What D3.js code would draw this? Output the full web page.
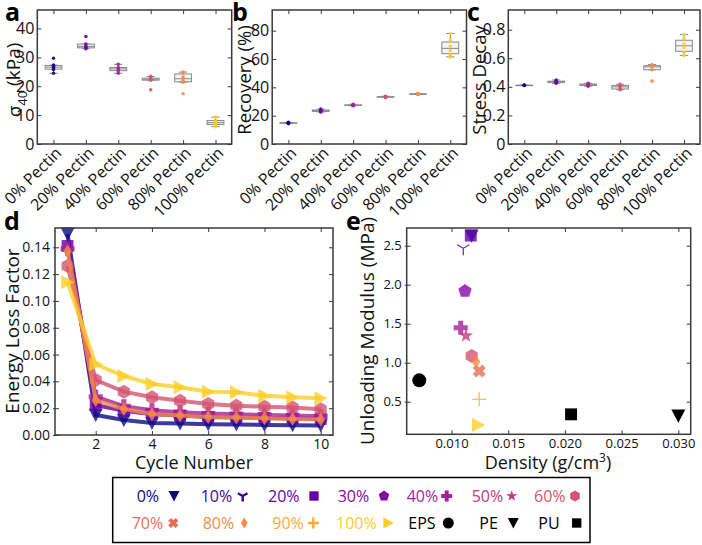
<!DOCTYPE html>
<html><head><meta charset="utf-8">
<script src="https://cdn.jsdelivr.net/npm/d3@7"></script>
<style>body{margin:0;background:#fff} svg{display:block;font-family:"Open Sans",sans-serif}</style>
</head><body><svg id="c" width="702" height="545"></svg>
<script>
// ---------------- DATA ----------------
const pectinCats = ["0% Pectin","20% Pectin","40% Pectin","60% Pectin","80% Pectin","100% Pectin"];
const pectinLevels = [0,20,40,60,80,100];
const sigma40 = [
  [29.7,27.3,26.9,26.3,25.8,24.5],
  [37.2,34.6,33.8,33.3,33.0],
  [27.6,26.5,26.0,25.4,24.5],
  [23.4,22.8,22.4,22.1,18.8],
  [24.9,24.6,23.2,22.0,21.4,17.4],
  [9.3,8.3,7.6,7.2,6.6,6.0]
];
const recovery = [
  [15.3,15.0,14.8,14.6,14.4],
  [24.6,24.0,23.5,23.0,22.6],
  [28.0,27.6,27.4,27.2,27.0],
  [33.7,33.4,33.3,33.1,32.6],
  [35.7,35.4,35.3,35.2,35.0],
  [78.0,73.0,69.0,66.0,63.0,61.5]
];
const stressDecay = [
  [0.413,0.411,0.410,0.409],
  [0.448,0.440,0.435,0.430,0.425],
  [0.425,0.420,0.415,0.410,0.405],
  [0.418,0.410,0.400,0.385,0.380],
  [0.556,0.548,0.540,0.520,0.440],
  [0.767,0.735,0.700,0.675,0.640,0.620]
];
const cycleNumbers = [1,2,3,4,5,6,7,8,9,10];
const elfLevels = [0,20,40,60,80,100];
const elf0   = [0.150,0.0149,0.0112,0.0090,0.0085,0.0080,0.0078,0.0075,0.0073,0.0070];
const elf20  = [0.141,0.0224,0.0180,0.0155,0.0145,0.0135,0.0130,0.0127,0.0124,0.0120];
const elf40  = [0.139,0.0286,0.0215,0.0185,0.0170,0.0160,0.0155,0.0150,0.0145,0.0140];
const elf60  = [0.126,0.0410,0.0323,0.0281,0.0256,0.0231,0.0219,0.0211,0.0206,0.0192];
const elf80  = [0.137,0.0260,0.0194,0.0157,0.0145,0.0135,0.0130,0.0125,0.0120,0.0115];
const elf100 = [0.114,0.0527,0.0440,0.0380,0.0356,0.0323,0.0318,0.0293,0.0281,0.0274];
const elfValues = [elf0,elf20,elf40,elf60,elf80,elf100];
const materialNames = ["0%","10%","20%","30%","40%","50%","60%","70%","80%","90%","100%","EPS","PE","PU"];
const density = [0.01178,0.01104,0.01170,0.01119,0.01081,0.01128,0.01178,0.01245,0.01216,0.01245,0.01236,0.00716,0.03000,0.02054];
const unloadingModulus = [2.628,2.467,2.630,1.919,1.449,1.346,1.086,0.894,1.013,0.531,0.201,0.774,0.320,0.338];
const materialMarkers = ["v","1","s","p","P","*","h","X","d","+",">","o","v","s"];

// --------------- STYLE HELPERS ---------------
const svg = d3.select("#c");
const plasmaColor = lvl => d3.interpolatePlasma(lvl/100*0.9);
const matColor = i => i < 11 ? plasmaColor(i*10) : "#000";
const FRAME = "#3a3a3a";

function markerPath(t, r){
  const poly = pts => "M" + pts.map(p=>p[0].toFixed(2)+","+p[1].toFixed(2)).join("L") + "Z";
  const reg = (n, rr, off) => d3.range(n).map(k=>{const a=(off+k*360/n)*Math.PI/180; return [rr*Math.cos(a), rr*Math.sin(a)];});
  switch(t){
    case "v": return poly([[-r,-r*0.9],[r,-r*0.9],[0,r]]);
    case ">": return poly([[-r*0.9,-r],[-r*0.9,r],[r,0]]);
    case "s": {const h=r*0.85; return poly([[-h,-h],[h,-h],[h,h],[-h,h]]);}
    case "p": return poly(reg(5, r, -90));
    case "h": return poly(reg(6, r, -90));
    case "*": {const pts=[]; for(let k=0;k<10;k++){const a=(-90+k*36)*Math.PI/180; const rr=k%2?r*0.42:r*1.05; pts.push([rr*Math.cos(a),rr*Math.sin(a)]);} return poly(pts);}
    case "P": {const w=r*0.36; return poly([[-w,-r],[w,-r],[w,-w],[r,-w],[r,w],[w,w],[w,r],[-w,r],[-w,w],[-r,w],[-r,-w],[-w,-w]]);}
    case "X": {const w=r*0.36, rr=r*0.95; const base=[[-w,-rr],[w,-rr],[w,-w],[rr,-w],[rr,w],[w,w],[w,rr],[-w,rr],[-w,w],[-rr,w],[-rr,-w],[-w,-w]];
      const c=Math.cos(Math.PI/4), s=Math.sin(Math.PI/4); return poly(base.map(p=>[p[0]*c-p[1]*s, p[0]*s+p[1]*c]));}
    case "d": return poly([[0,-r],[r*0.62,0],[0,r],[-r*0.62,0]]);
    case "+": return `M${-r},0L${r},0M0,${-r}L0,${r}`;
    case "1": return `M0,0L0,${r}M0,0L${-r*0.87},${-r*0.5}M0,0L${r*0.87},${-r*0.5}`;
    case "o": return `M${r},0A${r},${r} 0 1,1 ${-r},0A${r},${r} 0 1,1 ${r},0Z`;
  }
}
const strokeMarker = t => t==="+" || t==="1";

function drawMarker(g, t, x, y, r, color, opacity, sw){
  const p = g.append("path").attr("d", markerPath(t,r)).attr("transform",`translate(${x},${y})`);
  if(strokeMarker(t)) p.attr("fill","none").attr("stroke",color).attr("stroke-width",sw||1.3).attr("opacity",opacity);
  else p.attr("fill",color).attr("opacity",opacity);
  return p;
}

function frameAxes(g, x, y, opts){
  const [x0,x1] = x.range(), [y0,y1] = y.range();
  const L = opts.tickLen || 4;
  const leftOut = opts.leftOut || 0;
  const ga = g.append("g").attr("transform",`translate(${x0},0)`)
     .call(d3.axisLeft(y).tickValues(opts.yTicks).tickFormat(opts.yFmt).tickSize(-L).tickPadding(3 + leftOut));
  ga.selectAll(".tick line").attr("x1", -leftOut);
  ga.selectAll("text").attr("font-size",opts.tickFont).attr("fill","#111").attr("font-family","Open Sans");
  ga.select(".domain").remove();
  const gr = g.append("g").attr("transform",`translate(${x1},0)`)
     .call(d3.axisLeft(y).tickValues(opts.yTicks).tickFormat("").tickSize(L));
  gr.select(".domain").remove();
  const gb = g.append("g").attr("transform",`translate(0,${y0})`)
     .call(d3.axisBottom(x).tickValues(opts.xTicks).tickFormat(opts.xFmt||"").tickSize(-L).tickPadding(4));
  gb.select(".domain").remove();
  gb.selectAll("text").attr("font-size",opts.tickFont).attr("fill","#111").attr("font-family","Open Sans");
  const gt = g.append("g").attr("transform",`translate(0,${y1})`)
     .call(d3.axisBottom(x).tickValues(opts.xTicks).tickFormat("").tickSize(L));
  gt.select(".domain").remove();
  g.selectAll(".tick line").attr("stroke",FRAME).attr("stroke-width",1);
  g.append("rect").attr("x",x0).attr("y",y1).attr("width",x1-x0).attr("height",y0-y1)
    .attr("fill","none").attr("stroke",FRAME).attr("stroke-width",1.5);
  return gb;
}

function boxPanel(data, xRange, yDomain, yTicks, yFmt){
  const g = svg.append("g");
  const x = d3.scaleLinear().domain([0.5,6.5]).range(xRange);
  const y = d3.scaleLinear().domain(yDomain).range([144,10]);
  const bw = x(1.26)-x(1);
  data.forEach((vals,i)=>{
    const s = vals.slice().sort(d3.ascending);
    const q1 = d3.quantile(s,0.25), q3 = d3.quantile(s,0.75), med = d3.quantile(s,0.5);
    const iqr = q3-q1;
    const lo = d3.min(s.filter(v=>v>=q1-1.5*iqr)), hi = d3.max(s.filter(v=>v<=q3+1.5*iqr));
    const cx = x(i+1);
    const st = "#8a8a8a";
    g.append("line").attr("x1",cx).attr("x2",cx).attr("y1",y(hi)).attr("y2",y(q3)).attr("stroke",st);
    g.append("line").attr("x1",cx).attr("x2",cx).attr("y1",y(lo)).attr("y2",y(q1)).attr("stroke",st);
    g.append("line").attr("x1",cx-bw*0.5).attr("x2",cx+bw*0.5).attr("y1",y(hi)).attr("y2",y(hi)).attr("stroke",st);
    g.append("line").attr("x1",cx-bw*0.5).attr("x2",cx+bw*0.5).attr("y1",y(lo)).attr("y2",y(lo)).attr("stroke",st);
    g.append("rect").attr("x",cx-bw).attr("width",2*bw).attr("y",y(q3)).attr("height",Math.max(0.5,y(q1)-y(q3)))
      .attr("fill","#f4f4f4").attr("stroke",st).attr("stroke-width",1);
    g.append("line").attr("x1",cx-bw).attr("x2",cx+bw).attr("y1",y(med)).attr("y2",y(med)).attr("stroke",st);
    vals.forEach(v=>{
      g.append("circle").attr("cx",cx).attr("cy",y(v)).attr("r",1.8).attr("fill",plasmaColor(pectinLevels[i])).attr("opacity",0.9);
    });
  });
  frameAxes(g, x, y, {yTicks, yFmt, xTicks:[1,2,3,4,5,6], xFmt:"", tickFont:"16px"});
  pectinCats.forEach((c,i)=>{
    g.append("text").attr("transform",`translate(${x(i+1)+5},${150}) rotate(-45)`)
      .attr("text-anchor","end").attr("dy","0.35em").attr("font-size","16px").attr("fill","#111").text(c);
  });
  return {g,x,y};
}

// Panel a
boxPanel(sigma40, [37.3,231.7], [0,46.4], [0,10,20,30,40], d3.format("d"));
const la = svg.append("text").attr("transform","translate(14,80) rotate(-90)").attr("text-anchor","middle")
  .attr("dy","0.35em").attr("font-size","19px").attr("fill","#111");
la.append("tspan").text("σ");
la.append("tspan").attr("font-size","13px").attr("dy","0.45em").text("40");
la.append("tspan").attr("dy","-0.32em").text(" (kPa)");
// Panel b
boxPanel(recovery, [272.2,466.5], [0,94.6], [0,20,40,60,80], d3.format("d"));
svg.append("text").attr("transform","translate(245,80) rotate(-90)").attr("text-anchor","middle")
  .attr("dy","0.35em").attr("font-size","18.5px").attr("fill","#111").text("Recovery (%)");
// Panel c
boxPanel(stressDecay, [508.3,700], [0,0.938], [0,0.2,0.4,0.6,0.8], d=>d===0?"0":d3.format(".1f")(d));
svg.append("text").attr("transform","translate(480,80) rotate(-90)").attr("text-anchor","middle")
  .attr("dy","0.35em").attr("font-size","18.5px").attr("fill","#111").text("Stress Decay");

// Panel d
{
  const g = svg.append("g");
  const x = d3.scaleLinear().domain([0.553,10.437]).range([55,333]);
  const y = d3.scaleLinear().domain([0,0.1544]).range([435,228]);
  const line = d3.line().x((d,i)=>x(cycleNumbers[i])).y(d=>y(d));
  const elfMarkers = {0:"v",20:"s",40:"P",60:"h",80:"d",100:">"};
  elfValues.forEach((vals,k)=>{
    const c = plasmaColor(elfLevels[k]);
    g.append("path").attr("d",line(vals)).attr("fill","none").attr("stroke",c).attr("stroke-width",4).attr("opacity",0.8);
    vals.forEach((v,i)=> drawMarker(g, elfMarkers[elfLevels[k]], x(cycleNumbers[i]), y(v), 7, c, 0.8));
  });
  frameAxes(g, x, y, {yTicks:d3.range(0,0.141,0.02), yFmt:d3.format(".2f"), xTicks:[2,4,6,8,10], xFmt:d3.format("d"), tickFont:"14px", leftOut:2});
  svg.append("text").attr("transform","translate(12,331) rotate(-90)").attr("text-anchor","middle")
    .attr("dy","0.35em").attr("font-size","19px").attr("fill","#111").text("Energy Loss Factor");
  svg.append("text").attr("x",194).attr("y",469).attr("text-anchor","middle")
    .attr("font-size","18px").attr("fill","#111").text("Cycle Number");
}

// Panel e
{
  const g = svg.append("g");
  const x = d3.scaleLinear().domain([0.00605,0.03109]).range([406.7,690.7]);
  const y = d3.scaleLinear().domain([0.082,2.727]).range([434.3,228]);
  materialNames.forEach((n,i)=>{
    drawMarker(g, materialMarkers[i], x(density[i]), y(unloadingModulus[i]), 7, matColor(i), i<11?0.8:1);
  });
  frameAxes(g, x, y, {yTicks:[0.5,1.0,1.5,2.0,2.5], yFmt:d3.format(".1f"), xTicks:[0.010,0.015,0.020,0.025,0.030], xFmt:d3.format(".3f"), tickFont:"13px", leftOut:2});
  svg.append("text").attr("transform","translate(367,331) rotate(-90)").attr("text-anchor","middle")
    .attr("dy","0.35em").attr("font-size","19px").attr("fill","#111").text("Unloading Modulus (MPa)");
  const xl = svg.append("text").attr("x",548).attr("y",469).attr("text-anchor","middle")
    .attr("font-size","18px").attr("fill","#111");
  xl.append("tspan").text("Density (g/cm");
  xl.append("tspan").attr("font-size","12px").attr("dy","-0.6em").text("3");
  xl.append("tspan").attr("dy","0.4em").text(")");
}

// Panel letters
[["a",5,21],["b",232,21],["c",467,21],["d",4,230],["e",346,230]].forEach(([t,x,y])=>{
  svg.append("text").attr("x",x).attr("y",y).attr("font-size","25px").attr("font-weight",700).attr("fill","#000").text(t);
});

// Legend
{
  const g = svg.append("g");
  g.append("rect").attr("x",112.7).attr("y",477.5).attr("width",477.3).attr("height",65)
    .attr("fill","#fff").attr("stroke","#000").attr("stroke-width",1.5);
  const textX = [136.7,200.7,268,337.7,406.7,471.7,534, 131.7,202.7,272.3,336,408.3,479.3,538.3];
  const markX = [174,242.7,314,384,446.7,511.7,575, 173.3,244.3,313.3,388.3,448.3,513.3,576.7];
  materialNames.forEach((n,i)=>{
    const row = i<7?0:1;
    const cy = row===0?496:523;
    g.append("text").attr("x",textX[i]).attr("y",cy).attr("dy","0.35em").attr("font-size","16px")
      .attr("fill",matColor(i)).text(n);
    drawMarker(g, materialMarkers[i], markX[i], cy, 5.5, matColor(i), 1, 2.5);
  });
}
</script></body></html>
